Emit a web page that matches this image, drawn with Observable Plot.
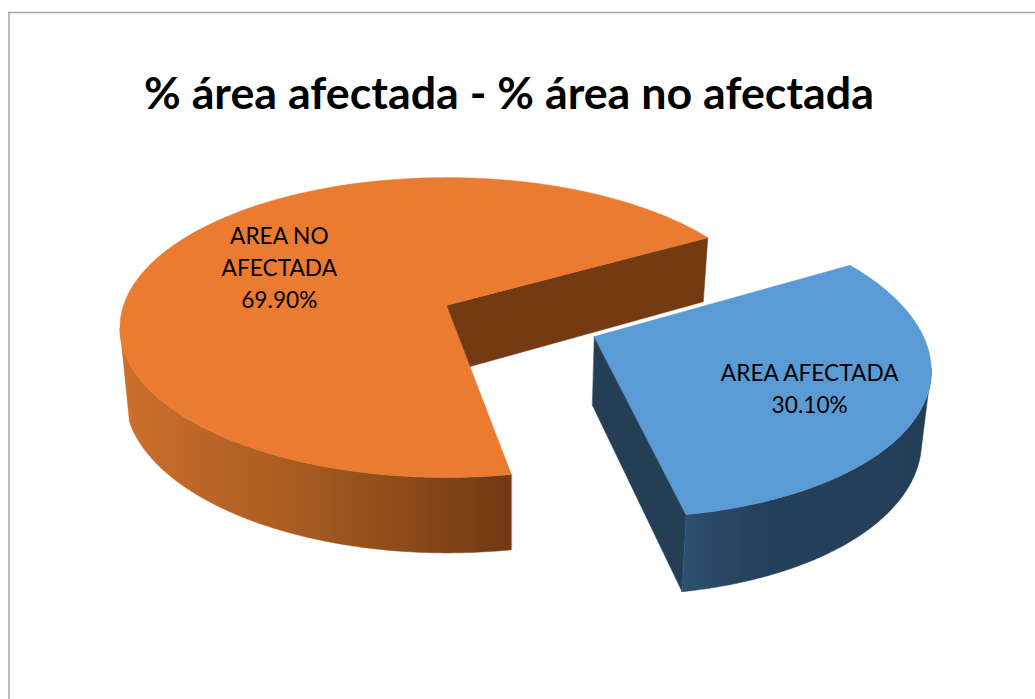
<!DOCTYPE html>
<html lang="es">
<head>
<meta charset="utf-8">
<style>html,body{margin:0;padding:0;background:#fff}svg{display:block}</style>
<script src="https://cdn.jsdelivr.net/npm/d3@7"></script>
<script src="https://cdn.jsdelivr.net/npm/@observablehq/plot@0.6"></script>
</head>
<body>
<div id="chart"></div>
<script>
const chartTitle = "% área afectada - % área no afectada";
const categories = ["AREA AFECTADA", "AREA NO AFECTADA"];
const labelLines = ["AREA AFECTADA", "AREA NO\nAFECTADA"];
const values = [30.10, 69.90];

const W = 1035, H = 699;
const rad = d => d * Math.PI / 180;
const startAngle = 29;                 // first slice starts here, running clockwise
const explode = [[0.444, 0.205], [0, 0]];
const rimScale = [0.988, 1];
const labelAt = [{r: 0.67, a: -27.2}, {r: 0.607, a: 152.6}];

// perspective of the tilted disc
const cx = 446, cy = 305, S = 323, B = 146.7, P = 0.147;
const project = (wx, wy) => {
  const w = 1 / (1 - P * wy);
  return [cx + S * wx * w, cy + B * wy * w];
};
// the lower rim of the disc as seen from the camera
const lower = ([x, y]) => [509 + (x < 509 ? 0.987 : 0.977) * (x - 509), y + 53 + 0.047 * y];
// slight angular distortion of the 3D view
const warp = a => a + 0.8 * Math.sin(rad(2 * (a + 25)));

const total = d3.sum(values);
const blueSweep = values[0] / total * 360, orangeSweep = values[1] / total * 360;
const blue = {e: explode[0], k: rimScale[0], a0: startAngle, a1: startAngle - blueSweep};
const orange = {e: explode[1], k: rimScale[1], a0: startAngle + orangeSweep, a1: startAngle};
const slices = [blue, orange];

const rimPoint = (s, deg) => {
  const t = rad(warp(deg));
  return project(s.e[0] + s.k * Math.cos(t), s.e[1] - s.k * Math.sin(t));
};
const apex = s => project(s.e[0], s.e[1]);
const arc = (s, from, to) => d3.range(0, 121).map(k => rimPoint(s, from + (to - from) * k / 120));
const pts = a => a.map(([x, y]) => ({x, y}));
// outer side: top rim up to the silhouette, straight down, lower rim back to the cut
const side = (s, cut, turnTop, turnLow) => pts([...arc(s, cut, turnTop), ...arc(s, turnLow, cut).map(lower)]);
const wall = (s, deg) => pts([apex(s), rimPoint(s, deg), lower(rimPoint(s, deg)), lower(apex(s))]);

const orangeTop = pts([apex(orange), ...arc(orange, orange.a0, orange.a1)]);
const orangeSide = side(orange, orange.a0, 188, 197);
const orangeWall = wall(orange, orange.a1);

const blueTop = pts([apex(blue), ...arc(blue, blue.a0, blue.a1)]);
const blueSide = side(blue, blue.a1, -12, -17);
const blueWall = wall(blue, blue.a1);

const labels = values.map((v, i) => {
  const s = slices[i], l = labelAt[i];
  const [x, y] = project(s.e[0] + l.r * Math.cos(rad(l.a)), s.e[1] - l.r * Math.sin(rad(l.a)));
  return {x, y, text: `${labelLines[i]}\n${v.toFixed(2)}%`};
});

function gradient(id, stops) {
  const ns = "http://www.w3.org/2000/svg";
  const defs = document.createElementNS(ns, "defs");
  const g = document.createElementNS(ns, "linearGradient");
  g.setAttribute("id", id);
  for (const [o, c] of stops) {
    const st = document.createElementNS(ns, "stop");
    st.setAttribute("offset", o);
    st.setAttribute("stop-color", c);
    g.appendChild(st);
  }
  defs.appendChild(g);
  return defs;
}
const poly = (data, fill) => Plot.line(data, {x: "x", y: "y", fill, stroke: fill, strokeWidth: 0.5, curve: "linear-closed"});

const chart = Plot.plot({
  width: W, height: H, margin: 0,
  x: {domain: [0, W], range: [0, W], axis: null},
  y: {domain: [0, H], range: [0, H], axis: null},
  style: {background: "#fff", fontFamily: "Lato, Carlito, sans-serif"},
  marks: [
    () => gradient("orangeSideFill", [[0, "#cc702b"], [0.45, "#a85c22"], [1, "#6f3913"]]),
    () => gradient("blueSideFill", [[0, "#2e5072"], [0.3, "#25405a"], [1, "#243e56"]]),
    Plot.ruleY([12], {x1: 8, x2: W, stroke: "#a6a6a6", strokeWidth: 1.5}),
    Plot.ruleX([8.5], {y1: 12, y2: H, stroke: "#a6a6a6", strokeWidth: 1.5}),
    poly(orangeSide, "url(#orangeSideFill)"),
    poly(orangeWall, "#723b14"),
    poly(orangeTop, "#eb7b30"),
    poly(blueWall, "#243e56"),
    poly(blueSide, "url(#blueSideFill)"),
    poly(blueTop, "#5b9bd5"),
    Plot.text(labels, {x: "x", y: "y", text: "text", fontSize: 22.7, fill: "#000", lineHeight: 1.41, lineAnchor: "middle", textAnchor: "middle"}),
    Plot.text([chartTitle], {x: () => 508.5, y: () => 94, fontSize: 44.8, fontWeight: 700, fill: "#000", lineAnchor: "middle", textAnchor: "middle"})
  ]
});
document.getElementById("chart").appendChild(chart);
</script>
</body>
</html>
